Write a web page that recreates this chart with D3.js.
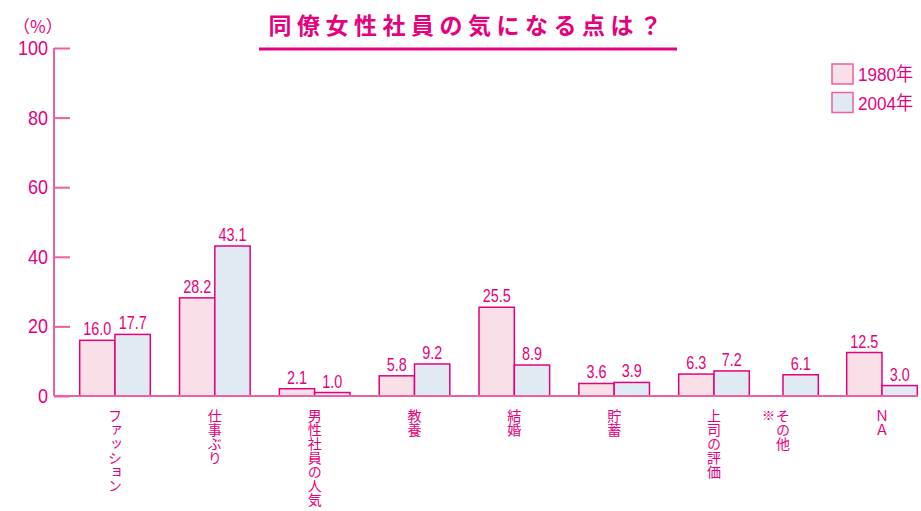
<!DOCTYPE html>
<html><head><meta charset="utf-8">
<script src="https://cdn.jsdelivr.net/npm/d3@7"></script>
<style>
html,body{margin:0;padding:0;background:#fff;}
svg{display:block;}
</style></head>
<body>
<svg id="c" width="921" height="511"></svg>
<script>
const title = "同僚女性社員の気になる点は？";
const categories = ["ファッション","仕事ぶり","男性社員の人気","教養","結婚","貯蓄","上司の評価","その他","ＮＡ"];
const notedCategory = "その他";
const seriesNames = ["1980年","2004年"];
const values1980 = [16.0, 28.2, 2.1, 5.8, 25.5, 3.6, 6.3, null, 12.5];
const values2004 = [17.7, 43.1, 1.0, 9.2, 8.9, 3.9, 7.2, 6.1, 3.0];
const yTicks = [0,20,40,60,80,100];
const yUnit = "（%）";

const PINK = "#e6007e", AXIS = "#ee5fa3";
const FILL = ["#f9dfe7", "#dfeaf2"];
const NUMFONT = "'Liberation Sans',sans-serif";
const svg = d3.select("#c");
const y = d3.scaleLinear().domain([0,100]).range([396,48]);
const idx = categories.map((d,i)=>i);
const xc = d3.scaleLinear().domain([0,6,7,8]).range([115,714,783,882]);
const bw = 35.3;

// title
svg.append("text").attr("x",468).attr("y",34).attr("text-anchor","middle")
  .attr("font-family","'Noto Sans CJK JP'").attr("font-weight","bold")
  .attr("font-size",23).attr("letter-spacing",5.5).attr("fill",PINK).text(title);
svg.append("line").attr("x1",259).attr("x2",677).attr("y1",49).attr("y2",49)
  .attr("stroke",PINK).attr("stroke-width",3);

// y axis
const yAxis = d3.axisRight(y).tickValues(yTicks).tickSize(16).tickFormat("");
const ga = svg.append("g").attr("transform","translate(54,0)").call(yAxis);
ga.select(".domain").remove();
ga.selectAll(".tick line").attr("stroke",AXIS).attr("stroke-width",2);
svg.append("line").attr("x1",54).attr("x2",54).attr("y1",y(100)).attr("y2",y(0))
  .attr("stroke",AXIS).attr("stroke-width",2);
svg.selectAll(".ylab").data(yTicks).join("text").attr("class","ylab")
  .attr("transform",d=>`translate(48,${y(d)+7}) scale(0.9,1)`).attr("text-anchor","end")
  .attr("font-family",NUMFONT)
  .attr("font-size",20).attr("fill",PINK).text(d=>d);
svg.append("text").attr("x",13).attr("y",33)
  .attr("font-family","'Noto Sans CJK JP'").attr("font-size",17).attr("fill",PINK).text(yUnit);

// bars
const series = [values1980, values2004];
series.forEach((vals,s)=>{
  const data = idx.filter(i=>vals[i]!=null).map(i=>({i,v:vals[i]}));
  svg.selectAll(".bar"+s).data(data).join("rect").attr("class","bar"+s)
    .attr("x",d=>xc(d.i)-bw+s*bw).attr("width",bw)
    .attr("y",d=>y(d.v)).attr("height",d=>y(0)-y(d.v))
    .attr("fill",FILL[s]).attr("stroke",PINK).attr("stroke-width",1.5);
  svg.selectAll(".val"+s).data(data).join("text").attr("class","val"+s)
    .attr("transform",d=>`translate(${xc(d.i)-bw/2+s*bw},${y(d.v)-5}) scale(0.8,1)`)
    .attr("text-anchor","middle")
    .attr("font-family",NUMFONT)
    .attr("font-size",18).attr("fill",PINK).text(d=>d.v.toFixed(1));
});

// baseline
svg.append("line").attr("x1",54).attr("x2",918).attr("y1",y(0)).attr("y2",y(0))
  .attr("stroke",AXIS).attr("stroke-width",2);

// category labels (vertical)
svg.selectAll(".cat").data(idx).join("text").attr("class","cat")
  .attr("x",d=>xc(d)).attr("y",409)
  .attr("font-family","'Noto Sans CJK JP'").attr("font-size",14).attr("fill",PINK)
  .style("writing-mode","vertical-rl").style("text-orientation","upright")
  .text(d=>categories[d]);
const ni = categories.indexOf(notedCategory);
svg.append("text").attr("x",xc(ni)-8).attr("y",420).attr("text-anchor","end")
  .attr("font-family","'Noto Sans CJK JP'").attr("font-size",13).attr("fill",PINK).text("※");

// legend
const lg = svg.selectAll(".lg").data(seriesNames).join("g").attr("class","lg")
  .attr("transform",(d,i)=>`translate(832,${64+i*28.5})`);
lg.append("rect").attr("width",21).attr("height",20).attr("fill",(d,i)=>FILL[i])
  .attr("stroke",AXIS).attr("stroke-width",1.5);
lg.append("text").attr("transform","translate(26,17) scale(0.9,1)")
  .attr("font-family","'Liberation Sans','Noto Sans CJK JP',sans-serif")
  .attr("font-size",19).attr("fill",PINK).text(d=>d);
</script>
</body></html>
